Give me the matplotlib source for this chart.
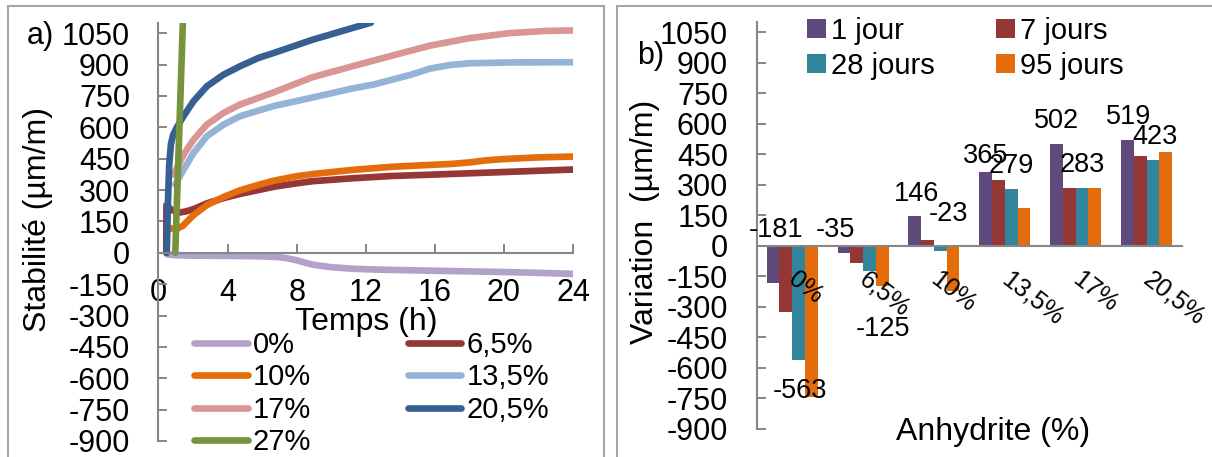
import matplotlib.pyplot as plt
from matplotlib.patches import Rectangle
from matplotlib.transforms import ScaledTranslation
import numpy as np

plt.rcParams['font.family'] = ['Liberation Sans', 'DejaVu Sans']
plt.rcParams['axes.unicode_minus'] = False

W, H = 1212, 457

# ---- a) stabilité vs temps ----
t_0 = [0.5, 1, 2, 4, 6, 7, 7.5, 8, 8.5, 9, 10, 11, 12, 14, 16, 18, 20, 22, 24]
v_0 = [-8, -12, -14, -15, -17, -21, -27, -36, -48, -58, -69, -75, -79, -83, -86, -89, -92, -96, -101]
t_65 = [0.45, 0.46, 0.55, 0.75, 1.2, 1.6, 2.0, 2.8, 3.8, 4.7, 5.8, 6.7, 8.0, 8.9, 11.2, 13.5, 16, 18, 20, 22, 24]
v_65 = [0, 228, 220, 205, 192, 198, 208, 236, 262, 281, 300, 316, 332, 342, 356, 367, 374, 380, 386, 392, 398]
t_10 = [0.62, 1.0, 1.4, 2.0, 2.8, 3.8, 4.7, 5.8, 6.7, 8.0, 9.0, 11.2, 13.5, 15.7, 17, 18, 19, 20, 22, 24]
v_10 = [118, 112, 128, 178, 228, 268, 298, 325, 345, 366, 377, 396, 411, 420, 425, 432, 442, 448, 456, 460]
t_135 = [0.97, 1.45, 2.03, 2.8, 3.77, 4.73, 5.8, 6.7, 8.9, 11.2, 12.5, 13.5, 14.6, 15.7, 16.9, 18, 20.3, 24]
v_135 = [326, 397, 477, 557, 613, 653, 680, 702, 742, 785, 805, 827, 851, 880, 898, 906, 910, 911]
t_17 = [0.87, 1.45, 2.03, 2.8, 3.77, 4.73, 5.8, 6.7, 8.9, 11.2, 13.5, 15.7, 18, 20.3, 22.5, 24]
v_17 = [373, 469, 541, 613, 669, 709, 741, 768, 839, 891, 942, 990, 1026, 1050, 1061, 1063]
t_205 = [0.48, 0.55, 0.62, 0.72, 0.85, 1.1, 1.45, 2.03, 2.8, 3.77, 4.73, 5.8, 6.7, 8.9, 11.2, 12.3]
v_205 = [0, 250, 420, 520, 565, 605, 653, 725, 796, 852, 892, 932, 956, 1018, 1074, 1100]
t_27 = [0.97, 1.41]
v_27 = [0, 1100]

series_a = [('0%', t_0, v_0, '#B3A2C7'), ('6,5%', t_65, v_65, '#953735'),
            ('10%', t_10, v_10, '#E46C0A'), ('13,5%', t_135, v_135, '#95B3D7'),
            ('17%', t_17, v_17, '#D99694'), ('20,5%', t_205, v_205, '#376092'),
            ('27%', t_27, v_27, '#77933C')]

# ---- b) variation par teneur en anhydrite ----
anhydrite = ['0%', '6,5%', '10%', '13,5%', '17%', '20,5%']
j1 = [-181, -35, 146, 365, 502, 519]
j7 = [-327, -85, 29, 323, 285, 441]
j28 = [-563, -125, -23, 279, 283, 423]
j95 = [-745, -196, -222, 185, 283, 460]
bar_colors = ['#604A7B', '#953735', '#31859C', '#E46C0A']
bar_names = ['1 jour', '7 jours', '28 jours', '95 jours']
# label offsets (pixels from bar end)
off_1 = [(3, 56), (-8, 26), (2, 25), (0, 19), (0, 26), (1, 26)]
off_28 = [(1, -28), (14, -55), (8, 40), (0, 26), (0, 26), (2, 26)]

AX = '#868686'


def fx(p):
    return p / W


def fy(p):
    return 1 - p / H


def style_axis(ax):
    for s in ['top', 'right']:
        ax.spines[s].set_visible(False)
    for s in ['left', 'bottom']:
        ax.spines[s].set_color(AX)
        ax.spines[s].set_linewidth(1.5)
    ax.spines['bottom'].set_position(('data', 0))
    ax.set_ylim(-900, 1100)
    ax.set_yticks(range(-900, 1051, 150))
    ax.tick_params(axis='y', direction='in', length=6.5, width=1.4, color=AX,
                   labelsize=22, pad=20.5)
    ax.patch.set_alpha(0)


fig = plt.figure(figsize=(W / 100, H / 100), dpi=100)

for x0, x1 in [(8, 604), (617, 1240)]:
    fig.add_artist(Rectangle((fx(x0), -0.1), (x1 - x0) / W, fy(6) + 0.1,
                             transform=fig.transFigure, fill=False,
                             ec='#A6A6A6', lw=1.5))

# left panel
ax1 = fig.add_axes([fx(158.5), fy(441), (573 - 158.5) / W, (441 - 22.7) / H])
lines = {}
for name, t, v, c in series_a:
    lines[name], = ax1.plot(t, v, color=c, lw=4.8, solid_capstyle='round',
                            solid_joinstyle='round', label=name)
style_axis(ax1)
ax1.set_xlim(0, 24)
ax1.set_xticks(range(0, 25, 4))
ax1.tick_params(axis='x', direction='in', length=6.5, width=1.4, color=AX,
                labelsize=22, pad=18.5)
order = ['0%', '10%', '17%', '27%', '6,5%', '13,5%', '20,5%']
fig.legend([lines[k] for k in order], order, loc='upper left',
           bbox_to_anchor=(fx(194), fy(331)), ncol=2, frameon=False,
           fontsize=21, handlelength=1.85, handletextpad=0.17,
           columnspacing=3.3, labelspacing=0.15, borderpad=0,
           borderaxespad=0)

fig.text(fx(38), fy(220), 'Stabilité (µm/m)', rotation=90, ha='center',
         va='center', fontsize=23)
fig.text(fx(366.5), fy(330), 'Temps (h)', ha='center', va='baseline', fontsize=23)
fig.text(fx(27), fy(44), 'a)', ha='left', va='baseline', fontsize=22)

# right panel
ax2 = fig.add_axes([fx(756.7), fy(429), (1182 - 756.7) / W, (429 - 22.3) / H])
x = np.arange(len(anhydrite))
w = 0.18
bars = []
for k, (vals, c, nm) in enumerate(zip([j1, j7, j28, j95], bar_colors, bar_names)):
    bars.append(ax2.bar(x + (k - 1.5) * w, vals, w, color=c, label=nm, zorder=1))
style_axis(ax2)
ax2.set_xlim(-0.5, 5.5)
ax2.set_xticks(x, anhydrite)
ax2.tick_params(axis='x', length=0, labelsize=18, pad=26)
shift = ScaledTranslation(-5 / 100, 0, fig.dpi_scale_trans)
for lab in ax2.get_xticklabels():
    lab.set_rotation(-38)
    lab.set_ha('left')
    lab.set_va('baseline')
    lab.set_rotation_mode('anchor')
    lab.set_transform(lab.get_transform() + shift)

for vals, offs, k in [(j1, off_1, 0), (j28, off_28, 2)]:
    for i, v in enumerate(vals):
        dx, dy = offs[i]
        ax2.annotate(str(v), (x[i] + (k - 1.5) * w, v),
                     xytext=(dx * 0.72, (dy - 3) * 0.72),
                     textcoords='offset points', ha='center', va='center',
                     fontsize=19.5, zorder=3)

fig.legend([bars[0], bars[2], bars[1], bars[3]],
           [bar_names[0], bar_names[2], bar_names[1], bar_names[3]],
           loc='upper left', bbox_to_anchor=(fx(807), fy(17)), ncol=2,
           frameon=False, fontsize=21, handlelength=0.65, handleheight=0.6,
           handletextpad=0.17, columnspacing=2.1, labelspacing=0.24,
           borderpad=0, borderaxespad=0)

fig.text(fx(645), fy(222), 'Variation  (µm/m)', rotation=90, ha='center',
         va='center', fontsize=23)
fig.text(fx(993), fy(440), 'Anhydrite (%)', ha='center', va='baseline', fontsize=23)
fig.text(fx(637), fy(64), 'b)', ha='left', va='baseline', fontsize=22)

fig.savefig('out.png', dpi=100)
